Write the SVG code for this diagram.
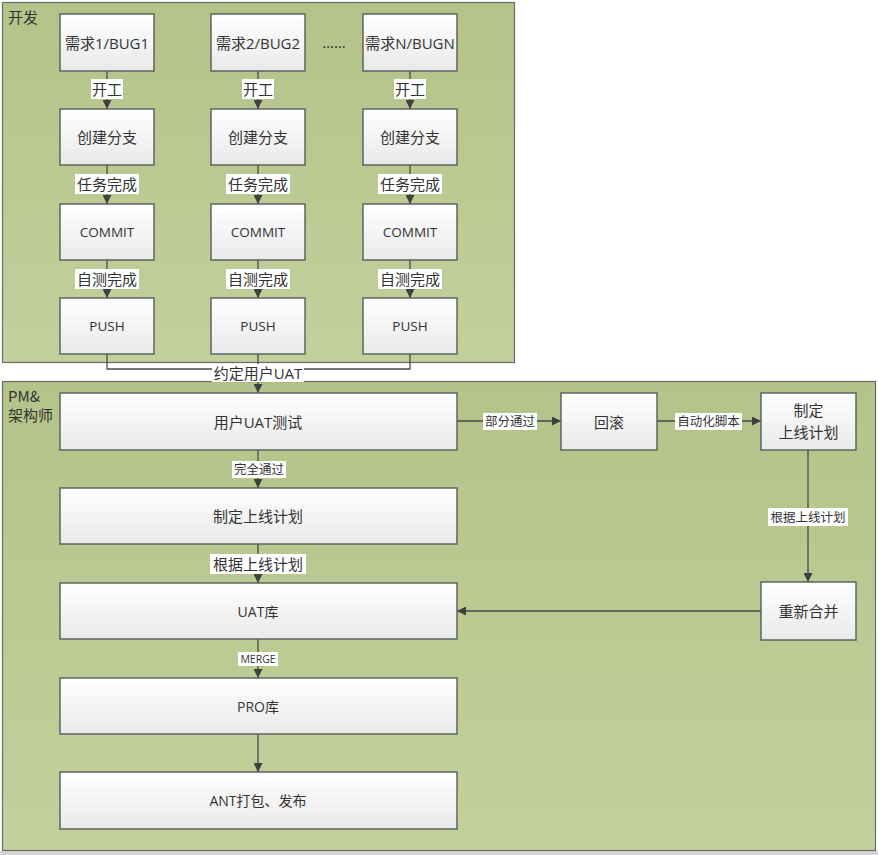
<svg xmlns="http://www.w3.org/2000/svg" width="878" height="855" viewBox="0 0 878 855">
<defs>
<linearGradient id="gc" x1="0" y1="0" x2="0" y2="1">
<stop offset="0" stop-color="#b4c389"/>
<stop offset="1" stop-color="#c2d09c"/>
</linearGradient>
<linearGradient id="gb" x1="0" y1="0" x2="0" y2="1">
<stop offset="0" stop-color="#ffffff"/>
<stop offset="1" stop-color="#e9e9e9"/>
</linearGradient>
<marker id="arr" viewBox="0 0 10 10" refX="10" refY="5" markerWidth="9" markerHeight="9" markerUnits="userSpaceOnUse" orient="auto">
<path d="M0,0 L10,5 L0,10 z" fill="#404040"/>
</marker>
<style>
.cont{fill:url(#gc);stroke:#6a6a6a;stroke-width:1.2}
.box{fill:url(#gb);stroke:#5a5a5a;stroke-width:1.4}
.t{font-family:"Open Sans","Noto Sans CJK SC",sans-serif;fill:#333;text-anchor:middle;dominant-baseline:central}
.ct{font-family:"Noto Sans CJK SC",sans-serif;fill:#333;font-size:15px}
.ln{stroke:#4a4a4a;stroke-width:1.3;fill:none}
.lb{fill:#ffffff}
</style>
</defs>
<rect x="0" y="0" width="878" height="855" fill="#ffffff"/>
<rect x="0" y="851" width="878" height="4" fill="#d4d4d4"/>

<g id="dev">
<rect class="cont" x="2.5" y="2.5" width="512" height="360"/>
<text class="ct" x="8" y="23">开发</text>
</g>
<g id="pm">
<rect class="cont" x="2.5" y="381.5" width="873" height="469"/>
<text class="ct" x="8" y="402">PM&amp;</text>
<text class="ct" x="8" y="421">架构师</text>
</g>

<g id="connectors">
<!-- dev columns -->
<line class="ln" x1="107" y1="71" x2="107" y2="109" marker-end="url(#arr)"/>
<line class="ln" x1="258" y1="71" x2="258" y2="109" marker-end="url(#arr)"/>
<line class="ln" x1="410" y1="71" x2="410" y2="109" marker-end="url(#arr)"/>
<line class="ln" x1="107" y1="165" x2="107" y2="204" marker-end="url(#arr)"/>
<line class="ln" x1="258" y1="165" x2="258" y2="204" marker-end="url(#arr)"/>
<line class="ln" x1="410" y1="165" x2="410" y2="204" marker-end="url(#arr)"/>
<line class="ln" x1="107" y1="260" x2="107" y2="298" marker-end="url(#arr)"/>
<line class="ln" x1="258" y1="260" x2="258" y2="298" marker-end="url(#arr)"/>
<line class="ln" x1="410" y1="260" x2="410" y2="298" marker-end="url(#arr)"/>
<polyline class="ln" points="107,354 107,369 410,369 410,354"/>
<line class="ln" x1="258" y1="354" x2="258" y2="393" marker-end="url(#arr)"/>
<!-- PM -->
<line class="ln" x1="457" y1="421" x2="561" y2="421" marker-end="url(#arr)"/>
<line class="ln" x1="657" y1="421" x2="761" y2="421" marker-end="url(#arr)"/>
<line class="ln" x1="808" y1="450" x2="808" y2="582" marker-end="url(#arr)"/>
<line class="ln" x1="761" y1="611" x2="457" y2="611" marker-end="url(#arr)"/>
<line class="ln" x1="258" y1="450" x2="258" y2="488" marker-end="url(#arr)"/>
<line class="ln" x1="258" y1="544" x2="258" y2="583" marker-end="url(#arr)"/>
<line class="ln" x1="258" y1="639" x2="258" y2="678" marker-end="url(#arr)"/>
<line class="ln" x1="258" y1="734" x2="258" y2="772" marker-end="url(#arr)"/>

<!-- labels -->
<g font-size="15">
<rect class="lb" x="91" y="79" width="32" height="20"/><text class="t" x="107" y="89">开工</text>
<rect class="lb" x="242" y="79" width="32" height="20"/><text class="t" x="258" y="89">开工</text>
<rect class="lb" x="394" y="79" width="32" height="20"/><text class="t" x="410" y="89">开工</text>
<rect class="lb" x="75" y="174" width="64" height="20"/><text class="t" x="107" y="184">任务完成</text>
<rect class="lb" x="226" y="174" width="64" height="20"/><text class="t" x="258" y="184">任务完成</text>
<rect class="lb" x="378" y="174" width="64" height="20"/><text class="t" x="410" y="184">任务完成</text>
<rect class="lb" x="75" y="269" width="64" height="20"/><text class="t" x="107" y="279">自测完成</text>
<rect class="lb" x="226" y="269" width="64" height="20"/><text class="t" x="258" y="279">自测完成</text>
<rect class="lb" x="378" y="269" width="64" height="20"/><text class="t" x="410" y="279">自测完成</text>
<rect class="lb" x="212" y="364" width="92" height="18"/><text class="t" x="258" y="373">约定用户UAT</text>
<rect class="lb" x="210" y="554" width="96" height="20"/><text class="t" x="258" y="564">根据上线计划</text>
</g>
<g font-size="12.5">
<rect class="lb" x="483" y="413" width="54" height="17"/><text class="t" x="510" y="421.5">部分通过</text>
<rect class="lb" x="675" y="413" width="67" height="17"/><text class="t" x="708.5" y="421.5">自动化脚本</text>
<rect class="lb" x="768" y="508" width="80" height="18"/><text class="t" x="808" y="517">根据上线计划</text>
<rect class="lb" x="232" y="461" width="54" height="17"/><text class="t" x="259" y="469.5">完全通过</text>
</g>
<rect class="lb" x="238" y="652" width="40" height="14"/><text class="t" x="258" y="659" font-size="10.5">MERGE</text>
</g>

<g id="dots"><text class="t" x="334" y="42" font-size="15">……</text></g>

<g id="r1c1"><rect class="box" x="60" y="14" width="94" height="57"/><text class="t" x="107" y="42.5" font-size="15">需求1/BUG1</text></g>
<g id="r1c2"><rect class="box" x="211" y="14" width="94" height="57"/><text class="t" x="258" y="42.5" font-size="15">需求2/BUG2</text></g>
<g id="r1c3"><rect class="box" x="363" y="14" width="94" height="57"/><text class="t" x="410" y="42.5" font-size="15">需求N/BUGN</text></g>
<g id="r2c1"><rect class="box" x="60" y="109" width="94" height="56"/><text class="t" x="107" y="137" font-size="15">创建分支</text></g>
<g id="r2c2"><rect class="box" x="211" y="109" width="94" height="56"/><text class="t" x="258" y="137" font-size="15">创建分支</text></g>
<g id="r2c3"><rect class="box" x="363" y="109" width="94" height="56"/><text class="t" x="410" y="137" font-size="15">创建分支</text></g>
<g id="r3c1"><rect class="box" x="60" y="204" width="94" height="56"/><text class="t" x="107" y="232" font-size="13.5">COMMIT</text></g>
<g id="r3c2"><rect class="box" x="211" y="204" width="94" height="56"/><text class="t" x="258" y="232" font-size="13.5">COMMIT</text></g>
<g id="r3c3"><rect class="box" x="363" y="204" width="94" height="56"/><text class="t" x="410" y="232" font-size="13.5">COMMIT</text></g>
<g id="r4c1"><rect class="box" x="60" y="298" width="94" height="56"/><text class="t" x="107" y="326" font-size="13.5">PUSH</text></g>
<g id="r4c2"><rect class="box" x="211" y="298" width="94" height="56"/><text class="t" x="258" y="326" font-size="13.5">PUSH</text></g>
<g id="r4c3"><rect class="box" x="363" y="298" width="94" height="56"/><text class="t" x="410" y="326" font-size="13.5">PUSH</text></g>

<g id="uat-test"><rect class="box" x="60" y="393" width="397" height="57"/><text class="t" x="258" y="421.5" font-size="15">用户UAT测试</text></g>
<g id="rollback"><rect class="box" x="561" y="393" width="96" height="57"/><text class="t" x="609" y="421.5" font-size="15">回滚</text></g>
<g id="plan-r"><rect class="box" x="761" y="393" width="95" height="57"/><text class="t" x="808.5" y="410" font-size="15">制定</text><text class="t" x="808.5" y="432" font-size="15">上线计划</text></g>
<g id="plan"><rect class="box" x="60" y="488" width="397" height="56"/><text class="t" x="258" y="516" font-size="15">制定上线计划</text></g>
<g id="remerge"><rect class="box" x="761" y="582" width="95" height="58"/><text class="t" x="808.5" y="611" font-size="15">重新合并</text></g>
<g id="uat-lib"><rect class="box" x="60" y="583" width="397" height="56"/><text class="t" x="258" y="611" font-size="14">UAT库</text></g>
<g id="pro-lib"><rect class="box" x="60" y="678" width="397" height="56"/><text class="t" x="258" y="706" font-size="14">PRO库</text></g>
<g id="ant"><rect class="box" x="60" y="772" width="397" height="57"/><text class="t" x="258" y="800.5" font-size="14">ANT打包、发布</text></g>
</svg>
